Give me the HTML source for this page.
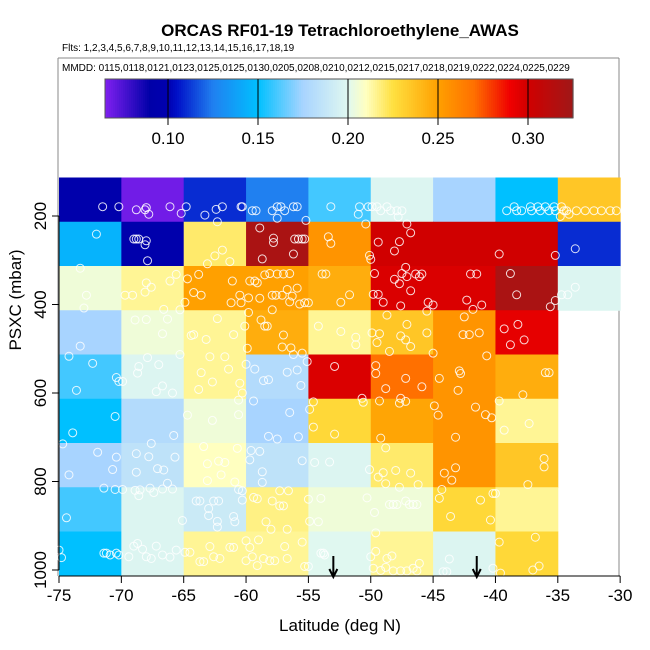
<!DOCTYPE html>
<html><head><meta charset="utf-8"><style>
body{margin:0;background:#fff;}
svg{display:block;font-family:"Liberation Sans",Arial,sans-serif;}
</style></head><body>
<svg id="chart" width="650" height="650" viewBox="0 0 650 650">
<text x="340" y="36" text-anchor="middle" font-size="17" font-weight="bold">ORCAS RF01-19 Tetrachloroethylene_AWAS</text>
<text x="62" y="51" font-size="10">Flts: 1,2,3,4,5,6,7,8,9,10,11,12,13,14,15,16,17,18,19</text>
<g id="legendbox">
<line x1="58" y1="58" x2="619" y2="58" stroke="#888" stroke-width="1"/>
<line x1="58" y1="58" x2="58" y2="576" stroke="#888" stroke-width="1"/>
<line x1="619" y1="58" x2="619" y2="576" stroke="#888" stroke-width="1"/>
</g>
<text x="62" y="71" font-size="10">MMDD: 0115,0118,0121,0123,0125,0125,0130,0205,0208,0210,0212,0215,0217,0218,0219,0222,0224,0225,0229</text>
<g id="colorbar"></g>
<g id="cells"></g>
<g id="points"></g>
<g id="axes"></g>
<text x="340" y="631" text-anchor="middle" font-size="17">Latitude (deg N)</text>
<text transform="translate(21,300) rotate(-90)" text-anchor="middle" font-size="17">PSXC (mbar)</text>
</svg>
<script>
// ---- data ----
const latEdges=[-75,-70,-65,-60,-55,-50,-45,-40,-35,-30];
const presEdges=[113,213,313,413,513,613,713,813,913,1013];
const row0=[0.095,0.068,0.11,0.125,0.16,0.198,0.175,0.15,0.235];
const row1=[0.145,0.095,0.22,0.32,0.255,0.30,0.30,0.30,0.11];
const row2=[0.205,0.215,0.25,0.25,0.245,0.297,0.297,0.32,0.198];
const row3=[0.175,0.205,0.215,0.245,0.215,0.235,0.255,0.293,null];
const row4=[0.16,0.198,0.215,0.18,0.297,0.27,0.255,0.245,null];
const row5=[0.15,0.18,0.205,0.175,0.228,0.248,0.255,0.215,null];
const row6=[0.175,0.185,0.21,0.185,0.198,0.22,0.255,0.235,null];
const row7=[0.16,0.198,0.19,0.217,0.205,0.205,0.228,0.215,null];
const row8=[0.15,0.198,0.215,0.215,0.2,0.215,0.198,0.228,null];
const cellRows=[row0,row1,row2,row3,row4,row5,row6,row7,row8];
const xTicks=[-75,-70,-65,-60,-55,-50,-45,-40,-35,-30];
const yTicks=[200,400,600,800,1000];
const cbTicks=[0.10,0.15,0.20,0.25,0.30];
const cbTickLabels=["0.10","0.15","0.20","0.25","0.30"];
const arrowLats=[-53,-41.5];
const ptLat=[-71.5,-70.2,-68.8,-68,-68.1,-67.8,-66.1,-65.2,-64.8,-63.3,-62.4,-61.9,-62.3,-60.4,-60.3,-59.5,-59.2,-57.9,-57.5,-57.2,-56.9,-57.5,-56.2,-55.9,-55.2,-53.2,
-50.9,-51,-50.2,-49.9,-49.5,-49.2,-48.7,-48.4,-47.9,-47.5,-47.8,-50.4,-38.5,-39.1,-38.3,-37.9,-37.2,-37.1,-36.6,-36.4,-36,-35.7,-35.3,-35.2,-34.7,-34.5,-34.3,-34.8,-34.1,-33.5,-32.8,-32.1,-31.5,-30.8,-30.3,
-72,-69,-68.8,-68.6,-68,-68.1,-67.9,-58.9,-57.8,-57.8,-58.7,-56.2,-56.1,-55.8,-55.5,-55.3,-53.4,-53.2,-61.9,-62.5,-61.3,-63.1,-49.4,-47.7,-48.1,-47.1,-46.8,-50.1,-50,-39.7,-35.2,-33.6,
-73.3,-72.8,-73,-69.7,-69.1,-68,-67.6,-68.1,-66.1,-65.6,-64.7,-63.8,-64.2,-63.6,-64.9,-61.1,-59.7,-59.3,-59.1,-58.5,-58.1,-57.5,-57,-56.5,-57.9,-57.6,-57.1,-56.7,-56.3,-55.9,-60.5,-59.8,-61.2,-60.4,-58.9,-56.5,-55.7,-55.3,-55,-66.6,-65.3,-57.9,-59.8,
-53.9,-53.6,-51.7,-52.4,-49.7,-49.8,-49.4,-49,-47.6,-48.1,-47.7,-47.5,-47.1,-47.2,-46.8,-46.4,-46.1,-45.9,-45.4,-45,-45.5,-42,-41.5,-42.3,-41.8,-41.1,-38.8,-38.3,-35.6,-35.2,-34.7,-34.2,-33.6,
-68.9,-68,-66.3,-66.7,-64.4,-64.2,-63.2,-62.3,-61,-60.1,-58.8,-58.5,-58.3,-57,-59.9,-57.1,-56.4,-56.2,-55.5,-54.2,-73.3,-65.3,
-52.4,-51.2,-51.2,-48.7,-47.1,-47.6,-47.2,-49.3,-49.5,-49.9,-45.5,-46.8,-48.5,-45,-42.5,-42.6,-42.1,-41.3,-40.7,-39.3,-38.2,-38.8,-37.7,
-74.2,-72.3,-70.4,-70.2,-69.9,-73.6,-67.9,-68.6,-68.7,-67,-66.7,-65.9,-67.2,-62.9,-61.7,-61.4,-63.6,-62.7,-63.8,-60.5,-60.3,-60,-59.3,-58.6,-58.2,-56.7,-55.9,-55.6,-55.1,-52.9,
-49.6,-49.6,-47.2,-45.9,-48.8,-44.5,-42.9,-42.8,-43,-36,-35.7,-37.8,
-70.5,-73.9,-74.7,-65.8,-64.7,-62.7,-60.6,-60.6,-59.4,-56.5,-58.2,-57.5,-55.8,-54.6,-54.9,-54.6,-52.9,
-50.7,-50.6,-49.3,-47.6,-47.7,-47.2,-49.2,-44.9,-44.6,-41.6,-40.8,-40.3,-43.2,-39.7,-39.3,-37.3,
-71.9,-70.4,-70.7,-74.2,-68.8,-67.8,-68.8,-67.1,-66.6,-65.7,-67.6,-63.4,-63.1,-62.2,-61.7,-62,-63.1,-60.7,-60.9,-59.6,-58.9,-59.7,-58.7,-58.7,-55.5,-54.5,-53.3,
-50.1,-49,-49.4,-48.8,-48,-46.8,-48.8,-47.7,-46.2,-44.1,-43.2,-43.5,-44.3,-36.1,-36.1,-37.4,
-71.4,-70.5,-69.9,-74.4,-68.9,-68.5,-68.6,-67.7,-67.4,-66.7,-66.3,-65.9,-64,-63.7,-63,-62.6,-62.2,-63,-62.3,-62.3,-61,-60.9,-65.1,-60.6,-60.3,-60.3,-59.4,-59.1,-57.9,-57.3,-56.6,-58.4,-58,-57.3,-57,-56.7,-55,-54,-54.9,-54.2,
-50.3,-49.7,-48.5,-48.2,-47.9,-47.2,-46.9,-46.6,-46.3,-44.5,-41.2,-40.2,-40,-43.6,-40.4,
-75,-74.8,-71.4,-71.2,-70.9,-70.4,-70.2,-69.4,-69,-68.7,-68.3,-68,-67.6,-67.2,-66.7,-66.1,-65.6,-64.9,-64.5,-63.7,-63.4,-62.9,-62.6,-62.1,-61.3,-61,-60,-60,-59.7,-59.5,-59,-59.1,-58.6,-58.1,-57.7,-56.9,-56.7,-55.5,-55.3,-55,-54,-53.7,
-49.6,-49.6,-50,-48.7,-48.3,-53.8,-43.7,-39.7,-36.8,-36.5,-37,-49.8,-49.2,-48.8,-48.2,-47.6,-47.1,-46.6,-46.1,-44.2,-43.9,-40.2,-39.6,-46.3];
const ptPres=[179,179,186,181,186,196,179,194,179,198,185,179,213,179,179,188,188,188,179,179,188,205,179,179,210,179,
179,196,179,179,179,188,179,188,188,188,202,218,179,188,188,188,179,188,179,188,179,188,179,188,179,188,188,201,196,188,188,188,188,188,188,
241,252,252,252,256,265,301,227,250,260,297,286,252,252,252,252,247,262,277,290,303,308,259,258,279,218,238,289,298,286,289,274,
318,379,408,379,379,351,361,372,347,332,342,332,373,379,395,347,347,347,351,333,330,331,331,330,379,379,379,366,381,363,379,385,396,396,386,394,399,396,396,411,412,412,418,
331,331,378,395,330,377,377,395,403,343,353,330,337,316,369,331,337,331,395,401,415,331,331,390,411,401,330,378,405,391,378,378,361,
435,434,433,466,470,468,479,432,468,449,435,449,449,469,499,496,498,513,510,449,494,513,
461,474,491,424,445,471,480,466,486,464,464,495,506,510,428,468,468,464,516,455,445,491,480,
517,533,565,574,574,594,520,540,555,536,584,600,597,518,518,546,554,575,592,578,600,535,546,572,570,553,548,583,529,540,
538,556,567,586,590,567,550,556,594,554,554,604,
653,690,715,696,650,662,649,616,618,644,698,704,699,620,637,677,693,
612,621,618,612,623,619,702,629,650,632,649,656,700,618,684,669,
734,745,773,785,737,744,779,771,774,745,714,721,760,754,757,785,798,725,801,730,732,751,778,802,753,757,756,
773,780,790,724,775,781,805,813,807,781,769,797,818,748,767,807,
815,818,818,882,820,819,832,815,825,817,804,817,844,844,861,844,844,877,890,903,879,891,888,818,821,842,836,839,844,821,821,891,908,855,855,908,840,838,890,891,
837,870,852,852,852,844,852,852,852,838,842,827,827,879,887,
955,972,962,962,966,962,966,970,946,940,953,970,974,946,966,971,955,960,960,981,981,947,970,974,949,949,934,979,949,970,932,990,974,979,979,947,974,937,992,992,962,966,
916,958,970,974,968,962,975,937,926,991,1000,996,1001,994,1002,1002,1002,996,985,1004,1004,996,1007,1002];

// ---- scales ----
const X0=59,PXDEG=12.47,Y200=216,PXMB=0.4425;
const xs=lat=>X0+(lat+75)*PXDEG;
const ys=p=>Y200+(p-200)*PXMB;
const CB0=105,CB1=573,CBV0=0.065,CBV1=0.325;
const cbx=v=>CB0+(v-CBV0)/(CBV1-CBV0)*(CB1-CB0);
const stops=[[0.065,[128,32,240]],[0.09,[0,0,168]],[0.10,[0,0,176]],[0.105,[0,16,200]],[0.125,[32,128,240]],[0.15,[0,192,255]],[0.175,[168,212,255]],[0.20,[224,248,240]],[0.21,[255,255,192]],[0.225,[255,224,64]],[0.25,[255,160,0]],[0.27,[255,112,0]],[0.29,[240,0,0]],[0.30,[208,0,0]],[0.325,[160,24,24]]];
function cmap(v){
  if(v<=stops[0][0])return 'rgb('+stops[0][1]+')';
  for(let i=1;i<stops.length;i++){
    if(v<=stops[i][0]){
      const a=stops[i-1],b=stops[i],t=(v-a[0])/(b[0]-a[0]);
      const c=a[1].map((x,k)=>Math.round(x+(b[1][k]-x)*t));
      return 'rgb('+c.join(',')+')';
    }
  }
  return 'rgb('+stops[stops.length-1][1]+')';
}
const NS='http://www.w3.org/2000/svg';
function mk(tag,attrs,parent){const e=document.createElementNS(NS,tag);for(const k in attrs)e.setAttribute(k,attrs[k]);parent.appendChild(e);return e;}

const cb=document.getElementById('colorbar');
const N=234;
for(let i=0;i<N;i++){
  const v=CBV0+(CBV1-CBV0)*(i+0.5)/N;
  const r=mk('rect',{x:CB0+(CB1-CB0)*i/N,y:79,width:(CB1-CB0)/N+0.6,height:39,fill:cmap(v)},cb);
  
  
}
const cbb=mk('rect',{x:CB0,y:79,width:CB1-CB0,height:39,fill:'none',stroke:'#555','stroke-width':1},cb);


cbTicks.forEach((t,i)=>{
  const l=mk('line',{x1:cbx(t),x2:cbx(t),y1:79,y2:125,stroke:'#000','stroke-width':1},cb);
  
  
  const tx=mk('text',{x:cbx(t),y:144,'text-anchor':'middle','font-size':17},cb);
  tx.textContent=cbTickLabels[i];
  
  
});

const cg=document.getElementById('cells');
cellRows.forEach((row,r)=>{
  row.forEach((v,c)=>{
    if(v===null)return;
    const x1=xs(latEdges[c]),x2=xs(latEdges[c+1]),y1=ys(presEdges[r]),y2=ys(presEdges[r+1]);
    const e=mk('rect',{x:x1,y:y1,width:x2-x1+0.5,height:y2-y1+0.5,fill:cmap(v)},cg);
    
    
  });
});

const pg=document.getElementById('points');
ptLat.forEach((lat,i)=>{
  const e=mk('circle',{cx:xs(lat),cy:ys(ptPres[i]),r:4,fill:'none',stroke:'#fff','stroke-width':1,'stroke-opacity':0.85},pg);
  
  
});

const ag=document.getElementById('axes');
const xl=mk('line',{x1:xs(xTicks[0]),x2:xs(xTicks[xTicks.length-1]),y1:576,y2:576,stroke:'#000','stroke-width':1},ag);


xTicks.forEach(t=>{
  const l=mk('line',{x1:xs(t),x2:xs(t),y1:576,y2:583,stroke:'#000'},ag);
  
  
  const tx=mk('text',{x:xs(t),y:601,'text-anchor':'middle','font-size':17},ag);
  tx.textContent=String(t);
  
  
});
const yl=mk('line',{x1:X0,x2:X0,y1:ys(yTicks[0]),y2:ys(yTicks[yTicks.length-1]),stroke:'#000','stroke-width':1},ag);


yTicks.forEach(t=>{
  const l=mk('line',{x1:X0-7,x2:X0,y1:ys(t),y2:ys(t),stroke:'#000'},ag);
  
  
  const tx=mk('text',{transform:'translate(46,'+ys(t)+') rotate(-90)','text-anchor':'middle','font-size':17},ag);
  tx.textContent=String(t);
  
  
});
arrowLats.forEach(lat=>{
  const x=xs(lat);
  const a=mk('path',{d:'M'+x+' 556 L'+x+' 577 M'+(x-4)+' 569 L'+x+' 577 L'+(x+4)+' 569',stroke:'#000','stroke-width':2,fill:'none'},ag);
  
  
});
</script>
</body></html>
